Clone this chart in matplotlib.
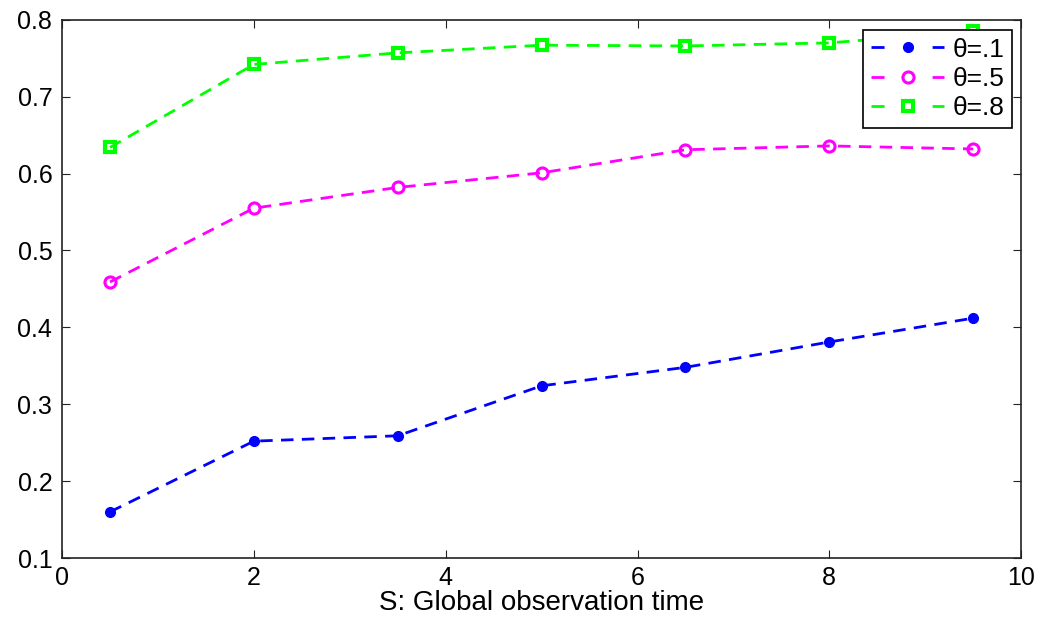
"""Recreate the global observation time chart."""

import matplotlib

matplotlib.use("Agg")
import matplotlib.pyplot as plt
from matplotlib.lines import Line2D

plt.rcParams["font.family"] = ["Liberation Sans", "DejaVu Sans"]

obs_time = [0.5, 2, 3.5, 5, 6.5, 8, 9.5]
theta_01 = [0.160, 0.252, 0.259, 0.324, 0.348, 0.381, 0.412]
theta_05 = [0.459, 0.555, 0.582, 0.601, 0.631, 0.636, 0.632]
theta_08 = [0.634, 0.742, 0.757, 0.767, 0.766, 0.770, 0.785]
labels = ["\u03b8=.1", "\u03b8=.5", "\u03b8=.8"]

BLUE, MAGENTA, GREEN = "#0000ff", "#ff00ff", "#00ff00"


def main() -> None:
    fig = plt.figure(figsize=(10.46, 6.19), dpi=100)
    ax = fig.add_axes([0.0593, 0.0985, 0.917, 0.8695])

    dash = (4.5, 3)
    styles = [
        dict(color=BLUE, marker="o", ms=7, mfc=BLUE, mec=BLUE, mew=1),
        dict(color=MAGENTA, marker="o", ms=8, mfc="none", mec=MAGENTA, mew=2.2),
        dict(color=GREEN, marker="s", ms=7, mfc="none", mec=GREEN, mew=3),
    ]
    for ys, st in zip([theta_01, theta_05, theta_08], styles):
        ax.plot(obs_time, ys, ls="--", dashes=dash, lw=2, **st)

    ax.set_xlim(0, 10)
    ax.set_ylim(0.1, 0.8)
    ax.set_xticks([0, 2, 4, 6, 8, 10])
    ax.set_yticks([0.1, 0.2, 0.3, 0.4, 0.5, 0.6, 0.7, 0.8])
    ax.set_yticklabels(["0.1", "0.2", "0.3", "0.4", "0.5", "0.6", "0.7", "0.8"])
    ax.tick_params(direction="in", top=True, right=True, labelsize=18, length=6,
                   width=0.8, colors="#222222", labelcolor="black")
    ax.tick_params(axis="y", pad=7)
    ax.tick_params(axis="x", pad=6)
    for spine in ax.spines.values():
        spine.set_linewidth(1.2)
        spine.set_color("#222222")
    ax.set_xlabel("S: Global observation time", fontsize=20, labelpad=0)

    # legend samples: dash - marker - dash, as in the original
    handles = [Line2D([0], [0], lw=2, ls=(0, (4.7, 17.3)), **st) for st in styles]
    leg = ax.legend(handles, labels, loc="upper right",
                    bbox_to_anchor=(0.9906, 0.9814), borderaxespad=0,
                    fontsize=19, frameon=True, fancybox=False,
                    edgecolor="black", framealpha=1, handlelength=2.8,
                    borderpad=0.3, labelspacing=0.2, handletextpad=0.3)
    leg.get_frame().set_linewidth(1.2)

    fig.savefig("out.png", dpi=100)


if __name__ == "__main__":
    main()
